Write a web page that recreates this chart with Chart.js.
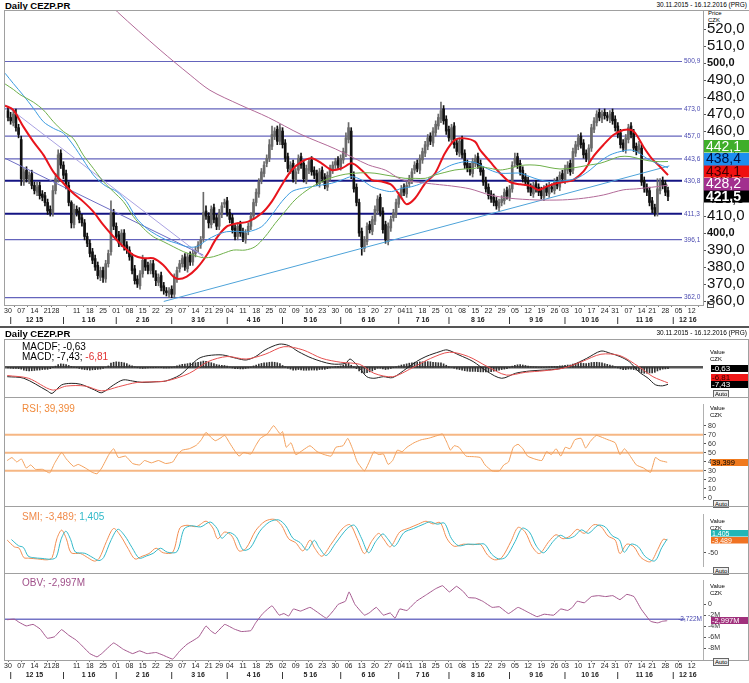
<!DOCTYPE html>
<html>
<head>
<meta charset="utf-8">
<script src="https://cdn.jsdelivr.net/npm/chart.js@4.4.1/dist/chart.umd.min.js"></script>
<style>
  body { margin:0; width:749px; height:683px; overflow:hidden; position:relative; background:#fff;
         font-family:"Liberation Sans", Arial, sans-serif; }
  .pane { position:absolute; left:0; width:749px; }
  .line { position:absolute; background:#a0a0a0; }
  .frame { position:absolute; border:1px solid #a0a0a0; box-sizing:border-box; pointer-events:none; }
  .t { position:absolute; white-space:nowrap; line-height:1; }
  .auto { position:absolute; left:713px; font-size:6px; line-height:6px; border:1px solid #666; padding:0 1px; background:#eee; }
</style>
</head>
<body>

<div class="t" style="left:5px;top:1px;font-size:9.5px;font-weight:bold">Daily CEZP.PR</div>
<div class="t" style="right:2px;top:2px;font-size:6.5px">30.11.2015 - 16.12.2016 (PRG)</div>
<div class="t" style="left:708px;top:10px;font-size:6px">Price</div>
<div class="t" style="left:708px;top:17px;font-size:6px">CZK</div>

<div class="pane" style="top:0;height:328px"><canvas id="cPrice"></canvas></div>
<div class="frame" style="left:4px;top:10px;width:700px;height:296px"></div>
<div class="line" style="left:703px;top:10px;width:46px;height:1px"></div>
<div style="position:absolute;left:707px;top:301px;width:5px;height:5px;border:1px solid #555"></div>

<div class="line" style="left:0;top:326px;width:749px;height:2px;background:#555"></div>
<div class="t" style="left:5px;top:329px;font-size:9.5px;font-weight:bold">Daily CEZP.PR</div>
<div class="t" style="right:2px;top:330px;font-size:6.5px">30.11.2015 - 16.12.2016 (PRG)</div>

<div class="pane" style="top:339px;height:58px"><canvas id="cMacd"></canvas></div>
<div class="frame" style="left:4px;top:339px;width:745px;height:59px"></div>
<div class="t" style="left:22px;top:342px;font-size:10px">MACDF; -0,63</div>
<div class="t" style="left:22px;top:352px;font-size:10px">MACD; -7,43; <span style="color:#e03030">-6,81</span></div>
<div class="t" style="left:710px;top:349px;font-size:6px">Value</div>
<div class="t" style="left:710px;top:356px;font-size:6px">CZK</div>
<div class="auto" style="top:390px">Auto</div>

<div class="pane" style="top:398px;height:108px"><canvas id="cRsi"></canvas></div>
<div class="frame" style="left:4px;top:397px;width:745px;height:110px"></div>
<div class="t" style="left:22px;top:404px;font-size:10px;color:#f08a3c">RSI; 39,399</div>
<div class="t" style="left:710px;top:405px;font-size:6px">Value</div>
<div class="t" style="left:710px;top:412px;font-size:6px">CZK</div>
<div class="auto" style="top:500px">Auto</div>

<div class="pane" style="top:508px;height:65px"><canvas id="cSmi"></canvas></div>
<div class="frame" style="left:4px;top:506px;width:745px;height:68px"></div>
<div class="t" style="left:22px;top:512px;font-size:10px;color:#f08a4a">SMI; -3,489; <span style="color:#2fb8c8">1,405</span></div>
<div class="t" style="left:710px;top:518px;font-size:6px">Value</div>
<div class="t" style="left:710px;top:525px;font-size:6px">CZK</div>
<div class="auto" style="top:567px">Auto</div>

<div class="pane" style="top:574px;height:109px"><canvas id="cObv"></canvas></div>
<div class="frame" style="left:4px;top:573px;width:745px;height:88px"></div>
<div class="t" style="left:22px;top:578px;font-size:10px;color:#a0508a">OBV; -2,997M</div>
<div class="t" style="left:710px;top:583px;font-size:6px">Value</div>
<div class="t" style="left:710px;top:590px;font-size:6px">CZK</div>
<div class="auto" style="top:658px">Auto</div>

<script>
// ---- axis / calendar (trading-day index, 0 = 30.11.2015) ----
const X_MIN = -1.14, X_MAX = 263.26;
const weekTickIdx = [0,5,10,15,18,26,31,36,41,46,51,56,61,66,71,76,80,84,89,94,99,104,109,114,119,124,129,134,139,144,149,152,157,162,167,172,177,182,187,192,197,202,207,211,216,221,226,230,235,240,244,249,254,259];
const weekTickLbl = ['30','07','14','21','28','11','18','25','01','08','15','22','29','07','14','21','29','04','11','18','25','02','09','16','23','30','06','13','20','27','04','11','18','25','01','08','15','22','29','05','12','19','26','03','10','17','24','31','07','14','21','28','05','12'];
const monthStartIdx = [1,21,41,62,83,104,126,148,167,190,211,231,252];
const monthMidIdx = [10,30.5,51,72,93,114.5,136.5,157,178,200,220.5,241,257.5];
const monthLbl = ['12 15','1 16','2 16','3 16','4 16','5 16','6 16','7 16','8 16','9 16','10 16','11 16','12 16'];
const priceTicks = [360,370,380,390,400,410,420,430,440,450,460,470,480,490,500,510,520];

// ---- daily candles ----
const openP = [472,468,465,470,462, 455,430,437,431,435, 428,424,428,423,422, 418,414,412, 425,432,447,
  440,435,428,418,405, 414,413,409,406,398, 394,389,385,381,374, 378,373,382,389,412, 404,399,394,400,393,
  390,386,379,373,369, 376,385,381,378,382, 376,371,375,369,366, 364,367,364,373,379, 382,386,379,387,383,
  388,391,393,397,413, 410,405,415,409, 404,411,417,419, 412,409,403,398,405, 401,396,401,404,410,
  418,423,431,435,441, 444,451,457,461,454, 460,453,445,437,441, 431,437,445,441,431, 437,443,437,435,429,
  437,433,427,433,437, 440,443,439,443,447, 455,460,434,427,418, 401,391,395,405,401, 407,413,421,413,405,
  395,403,409,411,417, 422,427,423, 429,431,437,441,437, 443,447,451,457,453, 459,463,467,473,467,
  461,455,463,453,447, 455,447,441,439,435, 441,445,441,437,431, 427,423,421,419,415, 418,419,425,421,426,
  441,445,441,437,433, 431,427,423,429,427, 425,421,427,423,427, 425,431,427,435, 431,437,441,437,447,
  451,457,453,447,443, 450,461,465,471,467, 471,469,467,471, 467,463,459,453,449, 455,463,459,451,449,
  450,431,427,425, 419,415,412,425,431, 429,425];
const highP = [474,471,472,473,464, 457,438,439,436,437, 430,430,430,425,424, 420,416,428, 435,449,449,
  442,437,430,419,417, 416,415,411,408,400, 396,391,387,383,380, 380,384,390,419,414, 406,401,402,402,395,
  392,388,381,375,378, 387,383,383,384,384, 378,376,377,371,368, 368,369,376,380,384, 387,388,388,389,390,
  392,395,398,424,416, 412,416,417,411, 414,418,420,421, 414,411,405,406,407, 403,402,406,412,420,
  426,432,438,442,446, 455,463,462,463,464, 462,455,447,442,443, 438,446,447,443,440, 444,445,439,437,438,
  439,435,436,440,442, 444,445,446,450,459, 465,462,436,429,420, 403,398,406,407,410, 416,422,423,415,407,
  406,410,414,420,424, 428,429,430, 434,438,442,443,446, 450,454,458,459,462, 466,470,477,475,469,
  463,464,465,455,456, 457,449,443,441,444, 446,447,443,439,433, 429,425,423,421,420, 422,426,427,428,442,
  447,447,443,439,435, 433,429,430,431,429, 427,428,429,430,429, 432,433,436,437, 440,442,443,450,454,
  458,459,455,449,452, 464,468,472,473,472, 473,471,472,473, 469,465,461,455,458, 464,465,461,453,454,
  452,433,429,427, 421,417,432,432,433, 431,427];
const lowP = [466,464,463,460,456, 428,428,430,429,426, 423,422,420,419,416, 411,410,410, 423,430,438,
  432,426,416,403,403, 410,406,404,396,392, 386,382,378,373,372, 371,371,380,387,402, 396,392,392,390,388,
  384,376,370,368,367, 374,378,376,376,374, 369,369,366,364,363, 362,362,362,371,377, 380,378,377,381,381,
  386,389,391,395,408, 403,403,406,402, 402,409,415,410, 406,400,396,396,398, 395,394,399,402,408,
  416,421,429,433,439, 442,449,455,452,452, 450,442,436,435,430, 429,435,438,430,429, 435,434,432,428,427,
  430,426,425,431,435, 438,438,437,441,445, 453,432,424,416,398, 387,389,393,400,399, 405,411,410,400,394,
  393,401,407,409,415, 420,422,421, 427,429,435,436,435, 441,445,449,452,451, 457,461,465,464,458,
  454,453,450,446,445, 444,438,436,434,433, 439,438,434,428,424, 420,418,416,414,413, 416,417,420,419,424,
  439,438,434,430,428, 424,422,421,424,422, 420,419,422,421,424, 423,426,425,430, 429,435,434,435,445,
  449,450,444,442,441, 448,459,463,466,465, 467,466,465,464, 460,456,450,448,447, 453,456,448,446,447,
  428,424,422,416, 412,410,410,423,426, 422,419];
const closeP = [468,466,470,462,458, 432,436,432,434,428, 425,427,422,421,418, 413,412,425, 432,446,440,
  434,428,418,406,414, 412,408,406,398,394, 388,384,380,375,378, 374,382,388,412,404, 398,394,400,392,390,
  386,378,372,370,376, 384,380,378,382,376, 372,374,368,366,365, 366,364,374,378,382, 385,380,386,383,388,
  390,393,396,412,410, 406,414,408,404, 412,416,418,412, 408,402,398,404,400, 397,400,404,410,418,
  424,430,436,440,444, 452,458,460,454,462, 452,444,438,440,432, 436,444,440,432,438, 442,436,434,430,436,
  432,428,434,438,440, 442,440,444,448,456, 462,434,426,418,400, 392,396,404,402,408, 414,420,412,402,396,
  404,408,412,418,422, 426,424,428, 432,436,440,438,444, 448,452,456,454,460, 464,468,472,466,460,
  456,462,452,448,454, 446,440,438,436,442, 444,440,436,430,426, 422,420,418,416,418, 420,424,422,426,440,
  444,440,436,432,430, 426,424,428,426,424, 422,426,424,428,426, 430,428,434,432, 438,440,436,448,452,
  456,452,446,444,450, 462,466,470,468,470, 469,468,470,466, 462,458,452,450,456, 462,458,450,448,452,
  430,426,424,418, 414,412,426,430,428, 424,421.5];

// ---- averages & trend lines [index, price] ----
const redMA = [[-1.1,475],[2,472.4],[5.8,462.6],[9.6,453.8],[13.4,446],[17.2,436],[21,429.3],[24.7,423.4],[28.5,418.5],[32.3,412.6],[36.1,404.8],[39.9,398],[43.7,392],[47.5,387.1],[51.3,385.2],[55,385.2],[58.8,381.2],[62.6,374.4],[64.5,373],[67.7,374.4],[71.5,379.3],[75.3,387.1],[79,397],[82.8,403.8],[86,405.5],[91,406.7],[96.1,411.6],[99.9,418.5],[103.7,428.3],[107.5,437.1],[111.3,442],[115,444],[118.8,441],[122.6,437.1],[126.4,438.1],[130.2,441],[134,437],[137.8,431.2],[141.6,430.3],[145.3,428.3],[149.1,420.5],[151,417],[154.2,420.5],[158,429.3],[161.8,435.2],[165.5,447],[169.3,454.8],[173,455.7],[176.9,453.8],[178.8,448.9],[182.6,442],[186.4,435.2],[190.2,429.9],[194,428.7],[197.7,427.9],[200.9,425.4],[204,427.3],[207.8,429.3],[211.6,430.3],[214.1,431.2],[217.9,436.1],[221.7,445],[225.5,451.8],[229.3,457.7],[233.1,460.6],[236.2,460.6],[238.1,457.7],[240.7,450.8],[243.8,444],[247,439],[250,434.1]];
const blueMA = [[-1.1,494],[2,488],[5.8,481],[9.6,473.4],[13.4,465.5],[17.2,461.6],[21,458.7],[24.7,451.8],[28.5,443],[32.3,434.2],[34.8,430.3],[37.4,427.3],[41.2,424.4],[44.9,418.5],[48.7,408.7],[52.5,402.8],[56.3,398.9],[60.1,395.9],[63.9,394],[67.7,392],[71.5,392],[75.3,395.9],[79,398.9],[82.8,400.8],[87,401],[91,400.8],[96.1,403.8],[99.9,410.6],[103.7,418.5],[107.5,424.4],[111.3,426.3],[115,427.3],[118.8,428.3],[122.6,429.3],[126.4,431.2],[130.2,433.2],[134,431.2],[137.8,427.3],[141.6,425.4],[145.3,424.4],[149.1,426.3],[152.9,427.3],[156.7,429.3],[160.5,433.2],[164.3,437.1],[168.1,440.1],[173.1,442],[176.9,441.5],[178.8,440.1],[182.6,437.1],[186.4,435.2],[190.2,435.2],[194,435.2],[197.7,433.2],[201.5,431.2],[205.3,430.3],[209.1,430.6],[212.9,431.2],[216.7,433.2],[220.5,437.1],[224.2,442],[228,445.9],[231.8,447.9],[235.6,448.9],[238.1,447.9],[241.9,444],[245.7,441],[250,438.4]];
const greenMA = [[-1.1,487.7],[2,484.5],[4.5,481.5],[9.6,477],[13.4,472.4],[17.2,465.5],[21,459.7],[24.7,455.7],[28.5,445.9],[32.3,438.1],[36.1,430.3],[39.9,424.4],[43.7,418.5],[47.5,409.7],[51.3,402.8],[55,397.9],[58.8,395],[62.6,392],[66.4,389.1],[70.2,387.1],[74,385.5],[77.8,386.1],[81.6,388.1],[85.4,390],[89.8,390],[93.6,392],[97.4,397.9],[101.2,405.7],[104.9,412.6],[108.7,419.5],[112.5,424.4],[116.3,428.3],[120.1,431.2],[123.9,433.2],[127.7,434.6],[131.5,435.2],[135.2,435.5],[139,435.2],[142.8,434.2],[146.6,433.2],[150.4,432.2],[154.2,432.2],[158,432.2],[161.8,434.2],[165.5,435.7],[169.3,437.1],[173.1,437.7],[176.9,438.1],[178.8,439],[182.6,438.1],[186.4,437.1],[190.2,438.1],[194,439.7],[197.7,440.1],[201.5,439.7],[205.3,438.5],[209.1,437.7],[212.9,438.1],[216.7,439],[220.5,440.1],[224.2,441],[228,443],[231.8,445],[235.6,445],[239.4,443.6],[243.2,442.4],[247,442],[250,442.1]];
const purpleMA = [[38,536],[41.5,530],[57.6,507.7],[69,493],[76.5,484],[87.9,475.4],[98.6,468],[111,458],[124,449.5],[136.5,440.1],[143,437],[149,431.5],[155.4,429.9],[162,428.7],[168,427.7],[175,426],[182.6,422.4],[190,420.5],[200,419.5],[210,419.5],[218,420.5],[225.5,422.4],[233,425.4],[238,426],[245.7,427.3],[250,428.2]];
const trendUp = [[59,359.8],[250.5,439.5]];
const trendDownA = [[-1.14,475.4],[74,386]];
const trendDownB = [[-1.14,444],[74,387]];
const levelValues = [500.9,473.0,457.0,443.6,430.8,411.3,396.1,362.0];
const levelLabels = ['500,9','473,0','457,0','443,6','430,8','411,3','396,1','362,0'];
const strongLevels = [430.8,411.3];
const LEVEL_END = 255.3;

// ---- MACD ----
const macdHist = [-0.3,-0.4,-0.5,-0.5,-0.6, -0.8,-1.2,-1.5,-1.6,-1.5, -1.4,-1.3,-1.2,-1.0,-0.9, -0.9,-0.6,-0.2, 0.5,1.2,1.5,
  1.4,1.2,0.8,0.4,0.1, -0.2,-0.5,-0.8,-1.0,-1.1, -1.2,-1.1,-1.0,-0.9,-0.8, -0.5,0,0.6,1.8,2.2, 2.4,2.3,2.2,2.0,1.6,
  1.0,0.6,0.2,-0.2,-0.4, -0.5,-0.4,-0.3,-0.2,-0.2, -0.2,-0.1,-0.2,-0.3,-0.3, -0.3,-0.2,0.2,0.6,1.0, 1.3,1.4,1.6,1.8,1.9,
  2.0,2.2,2.4,2.7,2.6, 2.2,2.0,1.6,1.2, 1.0,0.9,0.8,0.5, 0.1,-0.3,-0.6,-0.6,-0.7, -0.7,-0.5,-0.3,0.1,0.6,
  1.0,1.4,1.7,1.9,2.0, 2.2,2.3,2.2,2.0,1.6, 0.8,0.2,-0.4,-0.8,-1.2, -1.2,-1.0,-1.1,-1.3,-1.3, -1.2,-1.2,-1.2,-1.2,-1.0,
  -0.9,-0.9,-0.6,-0.3,0, 0.3,0.4,0.6,1.0,1.5, 1.8,0.9,0.2,-0.6,-1.6, -2.4,-2.6,-2.3,-2.0,-1.6, -1.0,-0.4,-0.4,-0.7,-1.0,
  -0.8,-0.5,-0.2,0.2,0.6, 1.0,1.2,1.5, 1.8,2.0,2.2,2.2,2.4, 2.4,2.5,2.5,2.4,2.2, 2.1,2.0,1.9,1.5,0.9,
  0.3,0,-0.4,-0.8,-1.0, -1.3,-1.5,-1.7,-1.8,-1.8, -1.8,-1.9,-2.0,-2.0,-2.0, -2.0,-1.9,-1.7,-1.5,-1.3, -1.0,-0.8,-0.6,-0.2,0.5,
  0.9,1.1,1.2,1.0,0.8, 0.5,0.3,0.2,0.1,0, -0.1,0,0.1,0.2,0.3, 0.4,0.4,0.6,0.7, 0.9,1.0,1.0,1.4,1.7,
  1.9,1.9,1.7,1.6,1.8, 2.1,2.2,2.2,2.1,1.9, 1.6,1.3,1.0,0.7, 0.2,-0.3,-0.7,-1.0,-1.0, -0.8,-0.8,-1.0,-1.2,-1.8,
  -2.4,-2.6,-2.6,-2.5, -2.4,-2.2,-1.6,-1.1,-0.8, -0.7,-0.63];
const macdLine = [[-0.3,-4.1],[6,-4.8],[14.9,-10.3],[16.7,-11.4],[20.3,-7.7],[23.9,-7.0],[27.5,-7.4],[32.8,-9.9],[35.5,-11.1],[40,-7.7],[43.6,-5.5],[47.2,-6.0],[50.8,-6.6],[56.1,-6.3],[59.7,-6.0],[65.1,-3.4],[68.7,0.3],[72.3,3.9],[75.8,5.1],[81.2,5.4],[86.6,3.9],[90.2,3.2],[93.8,4.7],[97.4,7.6],[102.7,10.1],[106.3,9.5],[109.9,6.9],[115.3,3.9],[122.4,1.5],[127.8,1.7],[129.6,3.6],[133.2,-0.4],[135.9,-4.1],[138.6,-4.8],[142.2,-4.1],[145.7,-4.5],[151.1,-0.4],[154.7,2.5],[158.3,4.7],[163.7,6.9],[166.3,7.6],[170.8,5.4],[176.2,2.5],[181.6,-1.9],[187,-4.8],[192.3,-2.6],[197.7,-1.6],[203.1,-1.2],[208.5,-0.7],[213.8,1.0],[219.2,3.9],[224.6,7.1],[228.2,6.1],[231.8,4.7],[235.3,2.5],[238.9,-1.9],[242.5,-4.8],[245.2,-7.6],[247.9,-8.1],[250,-7.43]];
const macdSignal = [[-0.3,-3.6],[7.8,-4.8],[16.7,-9.9],[22.1,-8.2],[29.3,-8.2],[35.5,-10.3],[41.8,-8.5],[49,-6.6],[59.7,-6.0],[68.7,-2.6],[75.8,2.5],[83,4.7],[90.2,3.6],[97.4,5.7],[104.5,9.0],[111.7,7.6],[118.9,3.9],[126,2.2],[133.2,1.3],[138.6,-2.6],[145.7,-4.1],[152.9,-0.4],[160.1,3.9],[167.2,6.6],[174.4,4.7],[181.6,0.3],[188.8,-3.4],[195.9,-2.2],[203.1,-1.5],[210.2,-0.4],[217.4,2.5],[224.6,5.7],[231.8,5.1],[238.9,0.3],[244.3,-4.1],[250,-6.81]];

// ---- RSI ----
const rsiLine = [[-0.3,41.3],[1.5,44.6],[3.3,39.7],[5.1,43],[6.9,33],[8.6,36.4],[10.4,31.5],[13.1,31.5],[15.8,27.5],[17.6,38],[20.3,50.2],[22.1,43],[24.8,34.8],[26.6,37],[29.3,33],[31.9,28.2],[33.7,26.6],[35.5,33],[38.2,47.9],[40,54.4],[41.8,44.6],[44.5,46.2],[47.2,38],[49.9,36.4],[51.7,41.3],[54.3,38.7],[57,41.3],[59.7,38],[62.4,39.7],[64.2,47.9],[66,52.8],[68.7,54.4],[71.4,58.4],[73.2,64.3],[75,72.5],[76.7,67.5],[78.5,63.3],[80.3,65.9],[82.1,69.2],[83.9,61],[85.7,52.8],[87.5,46.2],[89.3,50.2],[92,48.5],[93.8,57.7],[95.6,65.9],[98.2,70.8],[100.6,80],[101.8,75.7],[103.1,70.8],[104,73.4],[105.4,56],[107.2,61],[109,47.9],[111.7,52.8],[114.4,57.7],[117.1,51.1],[119.8,47.9],[122.4,46.2],[124.2,56],[126.9,57.7],[128.7,65.9],[130.5,54.4],[132.3,39.7],[135,29.8],[136.8,39.7],[138.6,51.1],[140.4,47.9],[142.2,48.5],[144,37],[145.7,41.3],[147.5,52.8],[149.3,51.1],[151.1,56],[153.8,61],[156.5,64.3],[159.2,65.9],[161,67.5],[162.8,69.2],[164.6,70.8],[166.3,61],[167.6,52.8],[169,57.7],[170.8,56],[173.5,46.2],[176.2,45.6],[178.9,44.6],[180.7,36.4],[183.4,29.8],[186.1,29.8],[187.8,36.4],[189.6,39.7],[191.4,56],[193.2,59.3],[195,54.4],[196.8,46.2],[199.5,43],[202.2,41.3],[204,51.1],[205.8,47.9],[207.6,54.4],[209.4,46.2],[211.1,56],[212.9,54.4],[214.7,64.3],[217.1,65.9],[218.8,55.1],[220.6,62.6],[222.8,69.2],[224.6,67.5],[227.3,64.3],[230,61],[231.8,47.9],[233.5,54.4],[235.3,47.9],[238,36.4],[240.7,33],[243.4,28.2],[245.2,44.6],[247,41.3],[249.7,39.399]];
const rsiLevels = [70,50,30];
const rsiTicks = [0,10,20,30,40,50,60,70,80];

// ---- SMI ----
const smiLine = [[-0.3,-3],[2.4,-28],[4.2,-33],[6,-68],[7.8,-70],[11.3,-73],[14.9,-76],[16.7,-68],[18.5,2],[20.3,34],[22.1,2],[23.9,-50],[27.5,-53],[30.2,-68],[32.8,-81],[34.6,-70],[37.3,-8],[40,40],[42.7,12],[45.4,-33],[48.1,-73],[50.8,-63],[53.4,-53],[56.1,-33],[58.8,-50],[62.4,-48],[65.1,42],[67.8,52],[71.4,47],[75,67],[77.6,42],[79.4,2],[82.1,27],[84.8,12],[87.5,-43],[90.2,-33],[93.8,32],[97.4,67],[100.9,74],[103.6,52],[106.3,2],[109,-13],[111.7,-43],[114.4,-3],[116.2,-33],[118.9,-63],[122.4,-18],[126.9,42],[129.6,54],[132.3,2],[135,-53],[137.7,-8],[140.4,22],[142.2,2],[144.8,-28],[148.4,27],[152,42],[155.6,57],[158.3,67],[161,57],[163.7,62],[166.3,2],[169,-26],[172.6,-18],[176.2,-20],[178.9,-18],[181.6,-58],[184.3,-76],[187,-68],[190.5,-8],[193.2,44],[195.9,27],[198.6,-28],[201.3,-53],[204.9,-8],[207.6,17],[210.2,2],[212.9,12],[215.6,37],[218.3,22],[221.9,54],[224.6,47],[227.3,12],[230,-3],[231.8,-53],[234.4,-18],[237.1,-28],[239.8,-68],[243.4,-83],[246.1,-38],[248.2,0],[249.7,-3.489]];
const smiSignal = [[1.3,-1],[4,-24],[5.8,-30],[7.6,-62],[9.4,-68],[12.9,-71],[16.5,-74],[18.3,-66],[20.1,0],[21.9,30],[23.7,0],[25.5,-47],[29.1,-52],[31.8,-66],[34.4,-79],[36.2,-68],[38.9,-6],[41.6,37],[44.3,12],[47,-31],[49.7,-70],[52.4,-62],[55,-52],[57.7,-33],[60.4,-48],[64,-46],[66.7,38],[69.4,50],[73,46],[76.6,64],[79.2,40],[81,4],[83.7,25],[86.4,10],[89.1,-40],[91.8,-32],[95.4,30],[99,64],[102.5,72],[105.2,50],[107.9,4],[110.6,-12],[113.3,-40],[116,-4],[117.8,-30],[120.5,-60],[124,-16],[128.5,40],[131.2,52],[133.9,4],[136.6,-50],[139.3,-8],[142,20],[143.8,2],[146.4,-26],[150,25],[153.6,40],[157.2,55],[159.9,65],[162.6,56],[165.3,60],[167.9,4],[170.6,-24],[174.2,-18],[177.8,-19],[180.5,-18],[183.2,-55],[185.9,-73],[188.6,-66],[192.1,-8],[194.8,41],[197.5,27],[200.2,-26],[202.9,-50],[206.5,-8],[209.2,15],[211.8,3],[214.5,11],[217.2,35],[219.9,22],[223.5,52],[226.2,46],[228.9,13],[231.6,-2],[233.4,-48],[236,-18],[238.7,-27],[241.4,-64],[245,-80],[247.7,-30],[249.7,1.405]];

// ---- OBV (millions) ----
const obvLine = [[-0.3,-2.82],[2.4,-2.71],[4.2,-3.28],[6.9,-3.95],[9.5,-3.67],[12.2,-4.52],[14.9,-6.2],[17.6,-5.93],[20.3,-4.63],[23,-5.65],[25.7,-6.5],[27.5,-7.3],[31,-9.0],[33.7,-9.6],[35.5,-9.0],[40,-7.06],[43.6,-8.2],[47.2,-9.0],[49.9,-8.5],[52.6,-9.0],[56.1,-8.8],[58.8,-9.3],[62.4,-10.0],[65.1,-8.5],[67.8,-7.3],[70.5,-6.5],[72.3,-5.93],[75,-3.95],[76.7,-4.8],[78.5,-5.37],[82.1,-3.67],[85.7,-4.52],[88.4,-4.97],[92,-4.8],[93.8,-3.39],[96.5,-1.69],[100,-0.28],[102.7,-1.98],[104.5,-1.69],[106.3,-2.15],[108.1,-0.85],[110.8,-1.24],[114.4,-0.56],[117.1,-1.41],[120.6,-2.54],[123.3,-1.13],[125.1,0],[127.8,0.56],[129.2,2.26],[131.4,0],[135,-1.98],[136.8,-1.58],[139.5,-0.56],[142.2,-1.98],[144.8,-1.58],[146.6,-2.54],[148.4,-0.85],[151.1,-1.13],[154.7,0.56],[158.3,1.69],[161.9,2.82],[164.6,3.39],[167.2,2.26],[169.9,3.28],[172.6,2.26],[174.4,1.24],[177.1,1.13],[179.8,0.56],[183.4,-0.56],[186.1,-0.45],[189.6,-1.69],[193.2,-0.56],[196.8,-1.41],[200.4,-2.26],[203.1,-1.81],[206.7,-1.98],[209.4,-0.85],[212,-1.13],[213.8,-0.56],[215.6,0.56],[218.3,0.28],[221,1.41],[223.7,1.58],[226.4,1.41],[229.1,1.58],[231.8,0.85],[234.4,1.81],[237.1,1.41],[239.8,-0.85],[243.4,-3.1],[246.1,-3.39],[247.9,-3.1],[249.7,-2.997]];
const obvRef = -2.722;
const obvTicks = [0,-2,-4,-6,-8];

// ---------------------------------------------------------------
const FONT = '"Liberation Sans", Arial, sans-serif';
Chart.defaults.font.family = FONT;
Chart.defaults.animation = false;
Chart.defaults.plugins.legend.display = false;
Chart.defaults.plugins.tooltip.enabled = false;
Chart.defaults.elements.point.radius = 0;
Chart.defaults.maintainAspectRatio = false;

const pts = a => a.map(p => ({x: p[0], y: p[1]}));
const flat = (v, x0, x1) => [{x: x0, y: v}, {x: x1, y: v}];
const line = (data, color, w, extra) => Object.assign({type: 'line', data: data, borderColor: color, borderWidth: w, tension: 0.3, order: 0}, extra || {});

// value boxes on the right axis, stacked so they do not overlap
const sideBoxes = {
  id: 'sideBoxes',
  afterDraw(chart, args, o) {
    if (!o.items) return;
    const ctx = chart.ctx, ys = chart.scales.y;
    const list = o.items.map(it => Object.assign({py: ys.getPixelForValue(it.v)}, it)).sort((a, b) => b.py - a.py);
    let floor = Infinity;
    ctx.save();
    ctx.textBaseline = 'middle';
    list.forEach(it => {
      const cy = Math.min(it.py, floor - o.h);
      floor = cy;
      ctx.fillStyle = it.bg;
      ctx.fillRect(o.x, Math.round(cy - o.h / 2), o.w, o.h);
      ctx.fillStyle = it.fg;
      ctx.font = (it.bold ? 'bold ' : '') + o.size + 'px ' + FONT;
      ctx.fillText(it.text, o.x + o.pad, cy + 0.5);
    });
    ctx.restore();
  }
};
// small labels at the end of horizontal lines
const lineLabels = {
  id: 'lineLabels',
  afterDatasetsDraw(chart, args, o) {
    if (!o.items) return;
    const ctx = chart.ctx, xs = chart.scales.x, ys = chart.scales.y;
    ctx.save();
    ctx.font = o.size + 'px ' + FONT;
    ctx.fillStyle = o.color;
    ctx.textBaseline = 'middle';
    ctx.textAlign = o.align;
    o.items.forEach(it => ctx.fillText(it.text, xs.getPixelForValue(o.at) + o.dx, ys.getPixelForValue(it.v)));
    ctx.restore();
  }
};
Chart.register(sideBoxes, lineLabels);

const monthTicks = monthStartIdx.map(v => ({v: v, t: '|'}))
  .concat(monthMidIdx.map((v, i) => ({v: v, t: monthLbl[i]})))
  .sort((a, b) => a.v - b.v);

function xScales(withDates) {
  const base = {type: 'linear', min: X_MIN, max: X_MAX, offset: false};
  if (!withDates) return {x: Object.assign({display: false}, base)};
  return {
    x: Object.assign({}, base, {
      position: 'bottom',
      afterBuildTicks: s => { s.ticks = weekTickIdx.map(v => ({value: v})); },
      afterFit: s => { s.height = 10; },
      ticks: {autoSkip: false, maxRotation: 0, padding: 0, color: '#222', font: {size: 7}, callback: (v, i) => weekTickLbl[i]},
      grid: {drawOnChartArea: false, tickLength: 2, color: '#777'},
      border: {color: '#a0a0a0'}
    }),
    xm: Object.assign({}, base, {
      position: 'bottom',
      afterBuildTicks: s => { s.ticks = monthTicks.map(m => ({value: m.v})); },
      afterFit: s => { s.height = 12; },
      ticks: {autoSkip: false, maxRotation: 0, padding: 1, color: '#222', font: {size: 7, weight: 'bold'}, callback: (v, i) => monthTicks[i].t},
      grid: {display: false, drawTicks: false, tickLength: 0},
      border: {display: false}
    })
  };
}

function yScale(min, max, ticks, fmt, font) {
  return {
    position: 'right', min: min, max: max,
    afterFit: s => { s.width = 46; },
    afterBuildTicks: s => { s.ticks = ticks.map(v => ({value: v})); },
    ticks: {display: ticks.length > 0, autoSkip: false, padding: 2, color: '#333', font: font, callback: fmt},
    grid: {drawOnChartArea: false, tickLength: 3, color: '#555'},
    border: {color: '#b0b0b0'}
  };
}

// ---- price panel ----
const candleColor = i => closeP[i] >= openP[i] ? '#6a6a6a' : '#111';
const priceSets = [
  {type: 'bar', data: closeP.map((c, i) => ({x: i, y: [lowP[i], highP[i]]})), backgroundColor: ctx => candleColor(ctx.dataIndex), barThickness: 1, grouped: false, order: 3},
  {type: 'bar', data: closeP.map((c, i) => ({x: i, y: [openP[i], c]})), backgroundColor: ctx => candleColor(ctx.dataIndex), barThickness: 2, minBarLength: 1, grouped: false, order: 2},
  line(pts(purpleMA), '#b26a98', 1),
  line(pts(greenMA), '#6fb04a', 1),
  line(pts(blueMA), '#3b9be0', 1),
  line(pts(redMA), '#e8141c', 2),
  line(pts(trendUp), '#4ea3d9', 1, {tension: 0}),
  line(pts(trendDownA), '#aaa2e2', 1, {tension: 0}),
  line(pts(trendDownB), '#6e6ec4', 1, {tension: 0})
].concat(levelValues.map(v => line(flat(v, X_MIN, LEVEL_END),
  strongLevels.includes(v) ? '#141483' : '#6464bc', strongLevels.includes(v) ? 2 : 1.2, {tension: 0, order: 5})));

const priceFont = c => (c.tick && (c.tick.value === 500 || c.tick.value === 400)) ? {size: 11, weight: 'bold'} : {size: 15};
const priceY = yScale(357.7, 531.2, priceTicks, v => v.toFixed(1).replace('.', ','), priceFont);
priceY.ticks.padding = 1;
priceY.ticks.color = '#111';

new Chart(document.getElementById('cPrice'), {
  type: 'bar',
  data: {datasets: priceSets},
  options: {
    layout: {padding: {left: 5, right: 0, top: 10, bottom: 1}},
    scales: Object.assign(xScales(true), {y: priceY}),
    plugins: {
      lineLabels: {items: levelValues.map((v, i) => ({v: v, text: levelLabels[i]})), at: LEVEL_END, dx: 2, align: 'left', size: 6.5, color: '#4a4ab0'},
      sideBoxes: {x: 703, w: 46, h: 12.5, pad: 3, size: 14, items: [
        {v: 442.1, text: '442,1', bg: '#3fae2a', fg: '#fff'},
        {v: 438.4, text: '438,4', bg: '#1d8ff0', fg: '#001040'},
        {v: 434.1, text: '434,1', bg: '#f01010', fg: '#400000'},
        {v: 428.2, text: '428,2', bg: '#a2308e', fg: '#fff'},
        {v: 421.5, text: '421,5', bg: '#000', fg: '#fff', bold: true}
      ]}
    }
  }
});

// ---- MACD panel ----
const macdY = yScale(-12.97, 12.36, [], v => '', {size: 7});
macdY.border = {display: false};
macdY.grid = {display: false, drawTicks: false};
new Chart(document.getElementById('cMacd'), {
  type: 'bar',
  data: {datasets: [
    line(flat(0, X_MIN, X_MAX), '#555', 2.5, {tension: 0, order: 4}),
    {type: 'bar', data: macdHist.map((v, i) => ({x: i, y: v})), backgroundColor: '#333', barThickness: 1, grouped: false, order: 3},
    line(pts(macdSignal), '#e65050', 1),
    line(pts(macdLine), '#222', 1)
  ]},
  options: {
    layout: {padding: {left: 5, right: 0, top: 0, bottom: 0}},
    scales: Object.assign(xScales(false), {y: macdY}),
    plugins: {sideBoxes: {x: 711, w: 38, h: 7, pad: 1, size: 8, items: [
      {v: -0.63, text: '-0,63', bg: '#000', fg: '#fff'},
      {v: -6.81, text: '-6,81', bg: '#f01818', fg: '#300'},
      {v: -7.43, text: '-7,43', bg: '#000', fg: '#fff'}
    ]}}
  }
});

// ---- RSI panel ----
new Chart(document.getElementById('cRsi'), {
  type: 'line',
  data: {datasets: rsiLevels.map(v => line(flat(v, X_MIN, X_MAX), '#f6b784', 2, {tension: 0, order: 2}))
    .concat([line(pts(rsiLine), '#f3a05c', 1, {tension: 0.15})])},
  options: {
    layout: {padding: {left: 5, right: 0, top: 0, bottom: 0}},
    scales: Object.assign(xScales(false), {y: yScale(-2.3, 103.8, rsiTicks, v => String(v), {size: 7})}),
    plugins: {sideBoxes: {x: 711, w: 38, h: 7, pad: 1, size: 7.5, items: [{v: 39.399, text: '39,399', bg: '#f07a1e', fg: '#000'}]}}
  }
});

// ---- SMI panel ----
new Chart(document.getElementById('cSmi'), {
  type: 'line',
  data: {datasets: [line(pts(smiSignal), '#33b9c9', 1), line(pts(smiLine), '#f28e52', 1)]},
  options: {
    layout: {padding: {left: 5, right: 0, top: 0, bottom: 0}},
    scales: Object.assign(xScales(false), {y: yScale(-102, 93, [-50], v => String(v), {size: 7})}),
    plugins: {sideBoxes: {x: 711, w: 38, h: 6.5, pad: 1, size: 7, items: [
      {v: 1.405, text: '1,405', bg: '#22b6b6', fg: '#fff'},
      {v: -3.489, text: '-3,489', bg: '#f07222', fg: '#fff'}
    ]}}
  }
});

// ---- OBV panel ----
new Chart(document.getElementById('cObv'), {
  type: 'line',
  data: {datasets: [
    line(flat(obvRef, X_MIN, 256.5), '#7474c6', 1.5, {tension: 0, order: 2}),
    line(pts(obvLine), '#a4588e', 1, {tension: 0.1})
  ]},
  options: {
    layout: {padding: {left: 5, right: 0, top: 0, bottom: 1}},
    scales: Object.assign(xScales(true), {y: yScale(-10.17, 4.4, obvTicks, v => v === 0 ? '0' : v + 'M', {size: 7})}),
    plugins: {
      lineLabels: {items: [{v: obvRef, text: '-2,722M'}], at: X_MAX, dx: -1, align: 'right', size: 6.5, color: '#4a4ab0'},
      sideBoxes: {x: 711, w: 38, h: 7, pad: 1, size: 7.5, items: [{v: -2.997, text: '-2,997M', bg: '#a0307c', fg: '#fff'}]}
    }
  }
});
</script>
</body>
</html>
